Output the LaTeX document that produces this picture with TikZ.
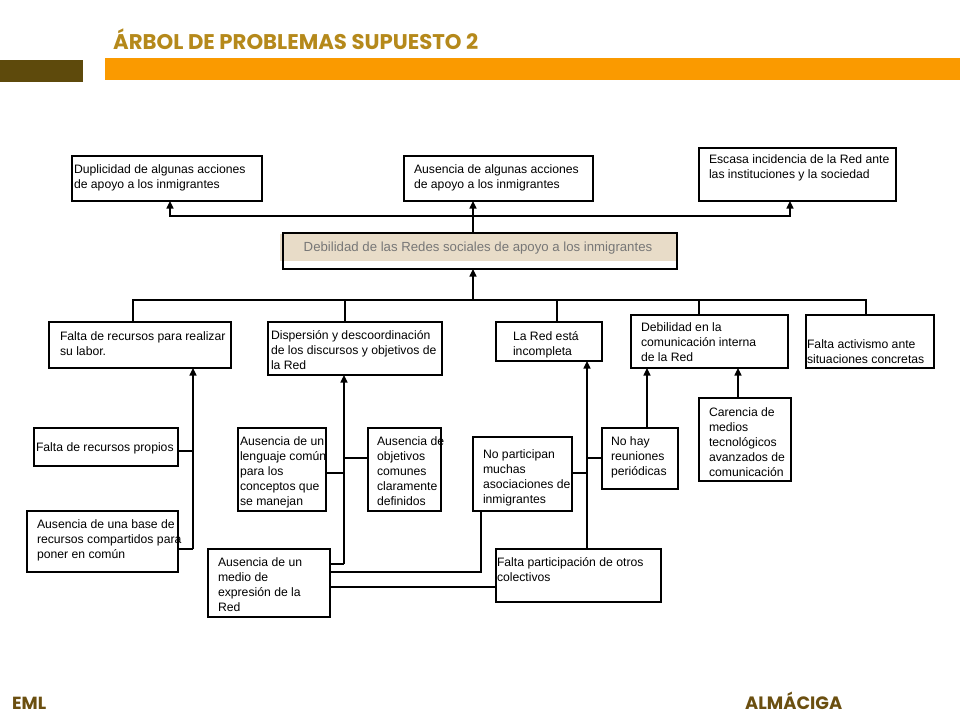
\documentclass[tikz,border=0pt]{standalone}
\usepackage{graphicx}
\usepackage{fontspec}
\setmainfont{Liberation Sans}
\newfontfamily\titlefont{Poppins}
\usetikzlibrary{arrows.meta}
\definecolor{titlecol}{HTML}{B5891B}
\definecolor{barbrown}{HTML}{5E4A0C}
\definecolor{barorange}{HTML}{FA9A00}
\definecolor{footcol}{HTML}{6B4F10}
\definecolor{cenfill}{HTML}{E8DCC8}
\definecolor{centext}{HTML}{777777}
\tikzset{
  bxs/.style={draw=black, line width=1.1pt, inner sep=0pt, outer sep=0pt},
  txs/.style={inner sep=0pt, outer sep=0pt, align=left, font=\fontsize{12.2}{15}\selectfont},
  conn/.style={line width=1.1pt},
  arr/.style={line width=1.1pt, -{Triangle[length=7.5pt,width=7pt]}},
}
\newcommand\bx[8]{%
  \node[bxs, minimum width=#4pt-#2pt, minimum height=#5pt-#3pt, anchor=north west] (#1) at (#2,#3) {};
  \node[txs, anchor=north west] (#1t) at (#6,#7) {#8};}
\begin{document}
\begin{tikzpicture}[x=1pt,y=-1pt]
\useasboundingbox (0,0) rectangle (960,720);
% header
\fill[barbrown] (0,60) rectangle (83,82);
\fill[barorange] (105,58) rectangle (960,80);
\node[anchor=base west, inner sep=0pt, text=titlecol] (title) at (113,49)
  {\resizebox{365pt}{!}{\titlefont\bfseries ÁRBOL DE PROBLEMAS SUPUESTO 2}};
\node[anchor=base west, inner sep=0pt, text=footcol] (fl) at (12,709)
  {\resizebox{34pt}{!}{\titlefont\bfseries EML}};
\node[anchor=base west, inner sep=0pt, text=footcol] (fr) at (745,709)
  {\resizebox{97pt}{!}{\titlefont\bfseries ALMÁCIGA}};

% effects
\bx{dup}{72}{156}{262}{201}{74}{165}{Duplicidad de algunas acciones\\de apoyo a los inmigrantes}
\bx{aus}{404}{156}{593}{201}{414}{165}{Ausencia de algunas acciones\\de apoyo a los inmigrantes}
\bx{esc}{699}{148}{896}{201}{709}{155}{Escasa incidencia de la Red ante\\las instituciones y la sociedad}

% central problem
\fill[cenfill] (280,234) rectangle (677,261);
\node[bxs, minimum width=394pt, minimum height=36pt, anchor=north west] (cen) at (283,233) {};
\node[inner sep=0pt, text=centext, font=\fontsize{13.2}{15}\selectfont] (cent) at (478,248)
  {Debilidad de las Redes sociales de apoyo a los inmigrantes};

% causes level 1
\bx{fal}{49}{322}{231}{368}{60}{332}{Falta de recursos para realizar\\su labor.}
\bx{dis}{268}{322}{442}{375}{271}{331}{Dispersión y descoordinación\\de los discursos y objetivos de\\la Red}
\bx{red}{496}{322}{602}{361}{513}{332}{La Red está\\incompleta}
\bx{deb}{631}{315}{788}{368}{641}{323}{Debilidad en la\\comunicación interna\\de la Red}
\bx{act}{806}{315}{934}{368}{807}{340}{Falta activismo ante\\situaciones concretas}

% causes level 2
\bx{pro}{34}{428}{178}{466}{36}{443}{Falta de recursos propios}
\bx{bas}{27}{511}{178}{572}{37}{520}{Ausencia de una base de\\recursos compartidos para\\poner en común}
\bx{len}{238}{428}{326}{511}{240}{437}{Ausencia de un\\lenguaje común\\para los\\conceptos que\\se manejan}
\bx{obj}{368}{428}{441}{511}{377}{437}{Ausencia de\\objetivos\\comunes\\claramente\\definidos}
\bx{med}{208}{549}{330}{617}{218}{558}{Ausencia de un\\medio de\\expresión de la\\Red}
\bx{nop}{473}{437}{572}{511}{483}{450}{No participan\\muchas\\asociaciones de\\inmigrantes}
\bx{noh}{602}{428}{678}{489}{611}{437}{No hay\\reuniones\\periódicas}
\bx{car}{699}{398}{791}{481}{709}{408}{Carencia de\\medios\\tecnológicos\\avanzados de\\comunicación}
\bx{fpa}{496}{549}{661}{602}{497}{558}{Falta participación de otros\\colectivos}

% junction coordinates
\coordinate (tj) at (473,216);
\coordinate (tL) at (170,216);
\coordinate (tR) at (790,216);
\coordinate (bj) at (473,300);
\coordinate (b1) at (133,300);
\coordinate (b2) at (345,300);
\coordinate (b3) at (557,300);
\coordinate (b4) at (699,300);
\coordinate (b5) at (866,300);
\coordinate (lv) at (193,549);
\coordinate (lp) at (193,451);
\coordinate (mm) at (344,564);
\coordinate (ml) at (344,473);
\coordinate (mo) at (344,458);
\coordinate (k1) at (481,572);
\coordinate (k2) at (496,587);
\coordinate (rn) at (587,473);
\coordinate (rh) at (587,458);
\coordinate (q1) at (647,428);
\coordinate (q2) at (738,398);

% top connectors
\draw[arr] (cen.north -| tj) -- (aus.south -| tj);
\draw[arr] (tj) -- (tL) -- (tL |- dup.south);
\draw[arr] (tj) -- (tR) -- (tR |- esc.south);

% central to causes
\draw[arr] (bj) -- (bj |- cen.south);
\draw[conn] (fal.north -| b1) -- (b1) -- (b5) -- (act.north -| b5);
\draw[conn] (b2) -- (dis.north -| b2);
\draw[conn] (b3) -- (red.north -| b3);
\draw[conn] (b4) -- (deb.north -| b4);

% left group
\draw[arr] (lv) -- (lv |- fal.south);
\draw[conn] (lp) -- (lp -| pro.east);
\draw[conn] (lv) -- (lv -| bas.east);

% middle group
\draw[arr] (mm) -- (mm |- dis.south);
\draw[conn] (ml) -- (ml -| len.east);
\draw[conn] (mo) -- (mo -| obj.west);
\draw[conn] (mm) -- (mm -| med.east);
\draw[conn] (k1 -| med.east) -- (k1) -- (k1 |- nop.south);
\draw[conn] (k2 -| med.east) -- (k2 -| fpa.west);

% right group
\draw[arr] (rn |- fpa.north) -- (rn |- red.south);
\draw[conn] (rn) -- (rn -| nop.east);
\draw[conn] (rh) -- (rh -| noh.west);
\draw[arr] (q1 |- noh.north) -- (q1 |- deb.south);
\draw[arr] (q2 |- car.north) -- (q2 |- deb.south);
\end{tikzpicture}
\end{document}
